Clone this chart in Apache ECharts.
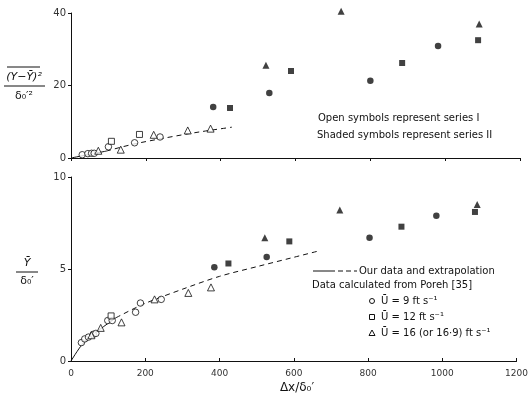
<!DOCTYPE html>
<html>
<head>
<meta charset="utf-8">
<script src="https://cdn.jsdelivr.net/npm/echarts@6/dist/echarts.min.js"></script>
<style>
  html, body { margin: 0; padding: 0; background: #fff; }
  #chart { width: 531px; height: 399px; }
</style>
</head>
<body>
<div id="chart"></div>
<script>
// x ticks shared by both panels
const xTicks = [0, 200, 400, 600, 800, 1000, 1200];

// top panel: mean square spread, [dx/delta, value]
const openCircleTop = [[30, 0.9], [45, 1.2], [55, 1.3], [62, 1.3], [100, 3.1], [170, 4.2], [238, 5.8]];
const openSquareTop = [[108, 4.6], [183, 6.5]];
const openTriangleTop = [[73, 2.0], [133, 2.3], [221, 6.4], [312, 7.6], [373, 8.1]];
const filledCircleTop = [[380, 14.1], [530, 17.9], [800, 21.3], [981, 30.9]];
const filledSquareTop = [[425, 13.8], [588, 24.0], [885, 26.2], [1088, 32.5]];
const filledTriangleTop = [[521, 25.6], [722, 40.5], [1091, 37.0]];
const curveTopSolid = [[0, 0], [94, 1.9]];
const curveTopDashed = [[94, 1.9], [166, 3.8], [255, 5.6], [344, 7.2], [430, 8.5]];

// bottom panel: mean height
const openCircleBot = [[28, 1.0], [37, 1.2], [47, 1.3], [60, 1.45], [67, 1.5], [99, 2.2], [111, 2.2], [174, 2.65], [187, 3.15], [243, 3.35]];
const openSquareBot = [[108, 2.45]];
const openTriangleBot = [[55, 1.4], [80, 1.8], [136, 2.1], [225, 3.35], [316, 3.7], [377, 4.0]];
const filledCircleBot = [[386, 5.1], [527, 5.65], [804, 6.7], [984, 7.9]];
const filledSquareBot = [[424, 5.3], [588, 6.5], [890, 7.3], [1088, 8.1]];
const filledTriangleBot = [[522, 6.7], [724, 8.2], [1094, 8.5]];
const curveBotSolid = [[0, 0], [30, 0.9], [60, 1.45], [121, 2.35]];
const curveBotDashed = [[121, 2.35], [196, 3.1], [300, 3.9], [400, 4.6], [505, 5.15], [593, 5.6], [671, 6.0]];

const FONT = 'DejaVu Sans';
const INK = '#111';

const chart = echarts.init(document.getElementById('chart'), null, { renderer: 'canvas' });

const pts = (data, symbol, filled, idx) => ({
  type: 'scatter',
  xAxisIndex: idx,
  yAxisIndex: idx,
  data: data,
  symbol: symbol,
  symbolSize: symbol === 'triangle' ? 7 : (symbol === 'rect' ? 6 : 6.5),
  clip: false,
  itemStyle: filled
    ? { color: INK, borderWidth: 0 }
    : { color: '#fff', borderColor: INK, borderWidth: 1 },
  z: 3,
});

const curve = (data, dashed, idx) => ({
  type: 'line',
  xAxisIndex: idx,
  yAxisIndex: idx,
  data: data,
  showSymbol: false,
  smooth: 0.3,
  lineStyle: { color: INK, width: 1, type: dashed ? [5, 4] : 'solid' },
  z: 2,
});

const xAxisBase = {
  type: 'value',
  min: xTicks[0],
  max: xTicks[xTicks.length - 1],
  interval: xTicks[1] - xTicks[0],
  splitLine: { show: false },
  axisLine: { lineStyle: { color: INK, width: 1 } },
};

const yAxisBase = {
  type: 'value',
  min: 0,
  splitLine: { show: false },
  axisLine: { show: true, lineStyle: { color: INK, width: 1 } },
  axisTick: { show: true, length: 3, lineStyle: { color: INK } },
  axisLabel: { color: '#333', fontFamily: FONT, fontSize: 10, margin: 5 },
};

// text anchored at (x, y): left edge, vertical middle
const txt = (x, y, text, font, align) => ({
  type: 'text',
  x: x,
  y: y,
  style: {
    x: 0, y: 0,
    text: text,
    fill: INK,
    font: font || '10px "' + FONT + '"',
    align: align || 'left',
    verticalAlign: 'middle',
  },
});

const hline = (x1, x2, y, dash) => ({
  type: 'line',
  shape: { x1: x1, y1: y, x2: x2, y2: y },
  style: { stroke: INK, lineWidth: 1, lineDash: dash || null },
});

const option = {
  backgroundColor: '#fff',
  animation: false,
  grid: [
    { left: 71, right: 11, top: 13, height: 145 },
    { left: 71, right: 11, top: 177, height: 184 },
  ],
  xAxis: [
    Object.assign({}, xAxisBase, {
      gridIndex: 0,
      axisTick: { show: true, inside: false, length: 3, lineStyle: { color: INK } },
      axisLabel: { show: false },
    }),
    Object.assign({}, xAxisBase, {
      gridIndex: 1,
      axisTick: { show: true, inside: true, length: 3, lineStyle: { color: INK } },
      axisLabel: { color: '#333', fontFamily: FONT, fontSize: 9, margin: 8, formatter: v => String(v) },
    }),
  ],
  yAxis: [
    Object.assign({}, yAxisBase, { gridIndex: 0, max: 40, interval: 20 }),
    Object.assign({}, yAxisBase, { gridIndex: 1, max: 10, interval: 5 }),
  ],
  series: [
    curve(curveTopSolid, false, 0),
    curve(curveTopDashed, true, 0),
    pts(openCircleTop, 'circle', false, 0),
    pts(openSquareTop, 'rect', false, 0),
    pts(openTriangleTop, 'triangle', false, 0),
    pts(filledCircleTop, 'circle', true, 0),
    pts(filledSquareTop, 'rect', true, 0),
    pts(filledTriangleTop, 'triangle', true, 0),
    curve(curveBotSolid, false, 1),
    curve(curveBotDashed, true, 1),
    pts(openCircleBot, 'circle', false, 1),
    pts(openSquareBot, 'rect', false, 1),
    pts(openTriangleBot, 'triangle', false, 1),
    pts(filledCircleBot, 'circle', true, 1),
    pts(filledSquareBot, 'rect', true, 1),
    pts(filledTriangleBot, 'triangle', true, 1),
  ],
  graphic: [
    // top y title: overline (Y - Ybar)^2 over delta0'^2
    hline(7, 40, 67),
    txt(24, 77, '(Y\u2212\u0232)\u00b2', 'italic 11px "' + FONT + '"', 'center'),
    hline(4, 45, 86),
    txt(24, 96, '\u03b4\u2080\u2032\u00b2', '11px "' + FONT + '"', 'center'),
    // bottom y title
    txt(27, 263, '\u0232', 'italic 11px "' + FONT + '"', 'center'),
    hline(16, 38, 272),
    txt(27, 281, '\u03b4\u2080\u2032', '11px "' + FONT + '"', 'center'),
    // x title
    txt(297, 388, '\u0394x/\u03b4\u2080\u2032', '12px "' + FONT + '"', 'center'),
    // top note
    txt(318, 118, 'Open symbols represent series I'),
    txt(317, 135, 'Shaded symbols represent series II'),
    // bottom legend
    hline(313, 335, 271),
    hline(338, 357, 271, [5, 3]),
    txt(359, 271, 'Our data and extrapolation'),
    txt(312, 285, 'Data calculated from Poreh [35]'),
    { type: 'circle', shape: { cx: 372, cy: 301, r: 2.5 }, style: { fill: '#fff', stroke: INK, lineWidth: 1 } },
    { type: 'rect', shape: { x: 369.5, y: 314.5, width: 5, height: 5 }, style: { fill: '#fff', stroke: INK, lineWidth: 1 } },
    { type: 'polygon', shape: { points: [[372, 330], [375, 335.5], [369, 335.5]] }, style: { fill: '#fff', stroke: INK, lineWidth: 1 } },
    txt(381, 301, '\u016a = 9 ft s\u207b\u00b9'),
    txt(381, 317, '\u016a = 12 ft s\u207b\u00b9'),
    txt(381, 333, '\u016a = 16 (or 16\u00b79) ft s\u207b\u00b9'),
  ],
};

chart.setOption(option);
</script>
</body>
</html>
